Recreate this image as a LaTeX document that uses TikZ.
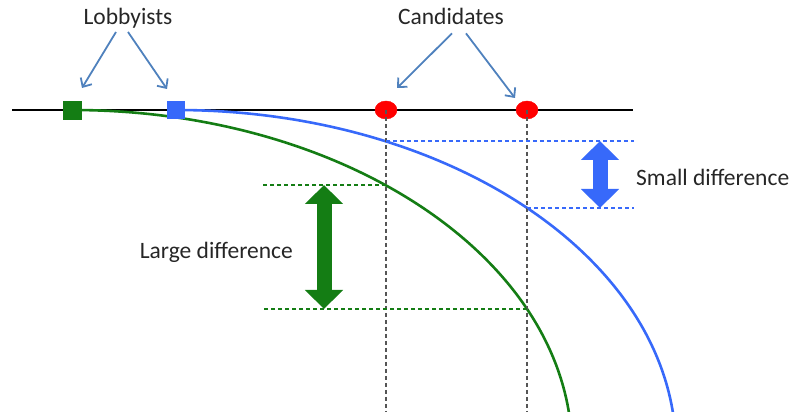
\documentclass[tikz,border=0pt]{standalone}
\usepackage{fontspec}
\setmainfont{Carlito}
\usetikzlibrary{positioning,arrows.meta,shapes.geometric}
\definecolor{lobgreen}{RGB}{20,125,20}
\definecolor{lobblue}{RGB}{55,105,250}
\definecolor{calloutblue}{RGB}{79,129,189}
\definecolor{dashgray}{RGB}{85,85,85}

\begin{document}
\begin{tikzpicture}[x=1pt,y=1pt,
    lbl/.style={font=\fontsize{23.5}{28}\selectfont,inner sep=0pt,text=black!85},
    lobby/.style={draw=#1,fill=#1,minimum size=17pt,inner sep=0pt},
    cand/.style={ellipse,draw=red,fill=red,minimum width=22pt,minimum height=18pt,inner sep=0pt},
    callout/.style={draw=calloutblue,line width=1.8pt,-{Straight Barb[length=7pt,width=13pt]}},
    curve/.style={line width=2.6pt},
    vdash/.style={dashgray,line width=1.3pt,dash pattern=on 4pt off 3pt},
    hdash/.style={line width=1.3pt,dash pattern=on 4pt off 3pt},
    bigarr/.style={line width=15pt,{Triangle[width=37pt,length=19pt]}-{Triangle[width=37pt,length=19pt]}}]
  \useasboundingbox (0,0) rectangle (796,412);
  % axis
  \coordinate (axl) at (12,302);
  \coordinate (axr) at (633,302);
  \draw[line width=1.8pt] (axl) -- (axr);
  % utility curves
  \coordinate (pg) at (72,302);
  \coordinate (pb) at (176,302);
  \draw[curve,lobgreen] (pg) arc[start angle=90,end angle=6.42,x radius=500pt,y radius=340pt];
  \draw[curve,lobblue] (pb) arc[start angle=90,end angle=6.42,x radius=500pt,y radius=340pt];
  \node[lobby=lobgreen,minimum size=18pt] (lg) at (pg) {};
  \node[lobby=lobblue] (lb) at (pb) {};
  % candidates
  \node[cand] (c1) at (386,302) {};
  \node[cand] (c2) at (527,302) {};
  \coordinate (bot) at (0,0);
  \draw[vdash] (c1.center) -- (c1 |- bot);
  \draw[vdash] (c2.center) -- (c2 |- bot);
  % where the curves cross the candidates
  \coordinate (g1) at (386,227);
  \coordinate (g2) at (527,103);
  \coordinate (b1) at (386,271);
  \coordinate (b2) at (527,204);
  % differences
  \coordinate (gl) at (262,0);
  \coordinate (br) at (634,0);
  \draw[hdash,draw=lobgreen] (g1) -- (g1 -| gl);
  \draw[hdash,draw=lobgreen] (g2) -- (g2 -| gl);
  \draw[hdash,draw=lobblue] (b1) -- (b1 -| br);
  \draw[hdash,draw=lobblue] (b2) -- (b2 -| br);
  \coordinate (ga) at (324,0);
  \coordinate (ba) at (600,0);
  \draw[bigarr,lobgreen] (g1 -| ga) -- (g2 -| ga);
  \draw[bigarr,lobblue] (b1 -| ba) -- (b2 -| ba);
  % labels
  \node[lbl,anchor=base] (lob) at (128,387) {Lobbyists};
  \node[lbl,anchor=base] (can) at (451,387) {Candidates};
  \node[lbl,anchor=base east] (large) at (293,153) {Large difference};
  \node[lbl,anchor=base west] (small) at (636,226) {Small difference};
  \draw[callout] ([shift={(-12,-3)}]lob.south) -- ([shift={(10,22)}]lg.center);
  \draw[callout] ([shift={(0,-3)}]lob.south) -- ([shift={(-9,21)}]lb.center);
  \draw[callout] ([shift={(1,-8)}]can.south) -- ([shift={(11,22)}]c1.center);
  \draw[callout] ([shift={(15,-8)}]can.south) -- ([shift={(-12,12)}]c2.center);
\end{tikzpicture}
\end{document}
